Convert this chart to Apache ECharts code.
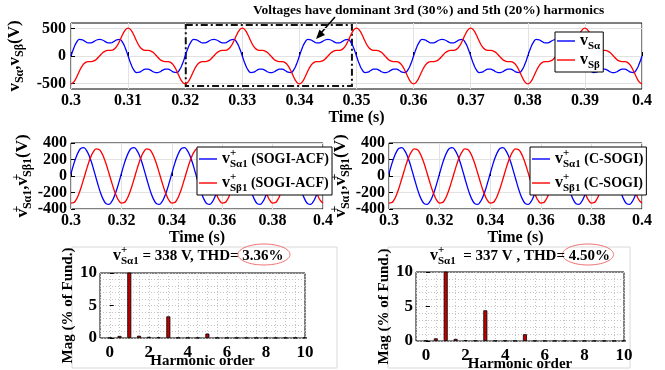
<!DOCTYPE html>
<html>
<head>
<meta charset="utf-8">
<script src="https://cdn.jsdelivr.net/npm/echarts@6/dist/echarts.min.js"></script>
<style>
  html, body { margin: 0; padding: 0; background: #fff; }
  #chart { width: 665px; height: 370px; }
</style>
</head>
<body>
<div id="chart"></div>
<script>
// --- data ---
// top panel: grid voltages, sampled every 0.5 ms from 0.3 s
const vSalpha = [
  0, 147, 254, 301, 295, 263, 237, 238, 262, 291, 304, 291, 262, 238, 237, 263, 295, 301, 254, 147, 0, -147, -254, -301, -295, -263, -237, -238, -262, -291, -304, -291, -262, -238, -237, -263, -295, -301, -254, -147,
  0, 147, 254, 301, 295, 263, 237, 238, 262, 291, 304, 291, 262, 238, 237, 263, 295, 301, 254, 147, 0, -147, -254, -301, -295, -263, -237, -238, -262, -291, -304, -291, -262, -238, -237, -263, -295, -301, -254, -147,
  0, 147, 254, 301, 295, 263, 237, 238, 262, 291, 304, 291, 262, 238, 237, 263, 295, 301, 254, 147, 0, -147, -254, -301, -295, -263, -237, -238, -262, -291, -304, -291, -262, -238, -237, -263, -295, -301, -254, -147,
  0, 147, 254, 301, 295, 263, 237, 238, 262, 291, 304, 291, 262, 238, 237, 263, 295, 301, 254, 147, 0, -147, -254, -301, -295, -263, -237, -238, -262, -291, -304, -291, -262, -238, -237, -263, -295, -301, -254, -147,
  0, 147, 254, 301, 295, 263, 237, 238, 262, 291, 304, 291, 262, 238, 237, 263, 295, 301, 254, 147, 0, -147, -254, -301, -295, -263, -237, -238, -262, -291, -304, -291, -262, -238, -237, -263, -295, -301, -254, -147,
  0
];
const vSbeta = [
  -507, -472, -381, -269, -175, -120, -102, -101, -90, -55, 0, 55, 90, 101, 102, 120, 175, 269, 381, 472, 507, 472, 381, 269, 175, 120, 102, 101, 90, 55, 0, -55, -90, -101, -102, -120, -175, -269, -381, -472,
  -507, -472, -381, -269, -175, -120, -102, -101, -90, -55, 0, 55, 90, 101, 102, 120, 175, 269, 381, 472, 507, 472, 381, 269, 175, 120, 102, 101, 90, 55, 0, -55, -90, -101, -102, -120, -175, -269, -381, -472,
  -507, -472, -381, -269, -175, -120, -102, -101, -90, -55, 0, 55, 90, 101, 102, 120, 175, 269, 381, 472, 507, 472, 381, 269, 175, 120, 102, 101, 90, 55, 0, -55, -90, -101, -102, -120, -175, -269, -381, -472,
  -507, -472, -381, -269, -175, -120, -102, -101, -90, -55, 0, 55, 90, 101, 102, 120, 175, 269, 381, 472, 507, 472, 381, 269, 175, 120, 102, 101, 90, 55, 0, -55, -90, -101, -102, -120, -175, -269, -381, -472,
  -507, -472, -381, -269, -175, -120, -102, -101, -90, -55, 0, 55, 90, 101, 102, 120, 175, 269, 381, 472, 507, 472, 381, 269, 175, 120, 102, 101, 90, 55, 0, -55, -90, -101, -102, -120, -175, -269, -381, -472,
  -507
];

// middle panels: extracted fundamental, sampled every 1 ms from 0.3 s
// (SOGI-ACF and C-SOGI traces are the same at this resolution)
const fundAlpha = [
  30, 135, 226, 296, 336, 344, 318, 260, 178, 78, -30, -135, -226, -296, -336, -344, -318, -260, -178, -78,
  30, 135, 226, 296, 336, 344, 318, 260, 178, 78, -30, -135, -226, -296, -336, -344, -318, -260, -178, -78,
  30, 135, 226, 296, 336, 344, 318, 260, 178, 78, -30, -135, -226, -296, -336, -344, -318, -260, -178, -78,
  30, 135, 226, 296, 336, 344, 318, 260, 178, 78, -30, -135, -226, -296, -336, -344, -318, -260, -178, -78,
  30, 135, 226, 296, 336, 344, 318, 260, 178, 78, -30, -135, -226, -296, -336, -344, -318, -260, -178, -78,
  30
];
const fundBeta = [
  -328, -324, -289, -225, -139, -40, 63, 160, 241, 299, 328, 324, 289, 225, 139, 40, -63, -160, -241, -299,
  -328, -324, -289, -225, -139, -40, 63, 160, 241, 299, 328, 324, 289, 225, 139, 40, -63, -160, -241, -299,
  -328, -324, -289, -225, -139, -40, 63, 160, 241, 299, 328, 324, 289, 225, 139, 40, -63, -160, -241, -299,
  -328, -324, -289, -225, -139, -40, 63, 160, 241, 299, 328, 324, 289, 225, 139, 40, -63, -160, -241, -299,
  -328, -324, -289, -225, -139, -40, 63, 160, 241, 299, 328, 324, 289, 225, 139, 40, -63, -160, -241, -299,
  -328
];

// bottom panels: harmonic spectrum (% of fundamental)
const harmOrder = [0, 0.5, 1, 1.5, 2, 2.5, 3, 3.5, 4, 4.5, 5, 5.5, 6, 6.5, 7, 7.5, 8, 8.5, 9, 9.5, 10];
const acfMag   = [0.05, 0.32, 100, 0.35, 0.18, 0.1, 3.33, 0.05, 0.05, 0.03, 0.68, 0.03, 0.03, 0.02, 0.03, 0.02, 0.02, 0.02, 0.02, 0.02, 0.02];
const csogiMag = [0.05, 0.38, 100, 0.3, 0.12, 0.06, 4.45, 0.04, 0.05, 0.03, 0.98, 0.03, 0.03, 0.02, 0.03, 0.02, 0.02, 0.02, 0.02, 0.02, 0.02];

// --- helpers ---
const serif = '"Liberation Serif", "Times New Roman", serif';
const BLUE = '#0000ff';
const RED = '#ff0000';

const topT = vSalpha.map((_, i) => 0.3 + i * 0.0005);
const midT = fundAlpha.map((_, i) => 0.3 + i * 0.001);
const pairs = (xs, ys) => ys.map((y, i) => [xs[i], y]);

// v with superscript (p) stacked over subscript (s)
function rich(vSize, tSize, small) {
  const base = { fontFamily: serif, fontWeight: 'bold', color: '#000' };
  return {
    v: Object.assign({ fontSize: vSize, lineHeight: vSize + 6, verticalAlign: 'middle' }, base),
    t: Object.assign({ fontSize: tSize, lineHeight: vSize + 6, verticalAlign: 'middle' }, base),
    p: Object.assign({ fontSize: small, lineHeight: small, width: 0, verticalAlign: 'top' }, base),
    s: Object.assign({ fontSize: small, lineHeight: small, verticalAlign: 'bottom' }, base)
  };
}

const tickFont = { fontFamily: serif, fontWeight: 'bold', fontSize: 16, color: '#000' };
const nameFont = { fontFamily: serif, fontWeight: 'bold', fontSize: 16, color: '#000' };
const fmtT = v => String(parseFloat(v.toFixed(2)));

function timeAxis(grid, interval, nameGap) {
  return {
    gridIndex: grid, type: 'value', min: 0.3, max: 0.4, interval: interval,
    axisLine: { show: false },
    axisTick: { inside: true, length: 4, lineStyle: { color: '#000' } },
    axisLabel: Object.assign({ margin: 4, formatter: fmtT }, tickFont),
    splitLine: { lineStyle: { color: '#e2e2e2' } },
    name: 'Time (s)', nameLocation: 'middle', nameGap: nameGap, nameTextStyle: nameFont
  };
}

function harmX(grid) {
  return {
    gridIndex: grid, type: 'value', min: -0.5, max: 10, interval: 0.5,
    axisLine: { show: false }, axisTick: { show: false },
    axisLabel: Object.assign({
      margin: 6,
      formatter: v => (v >= 0 && Math.abs(v % 2) < 1e-6) ? String(v) : ''
    }, tickFont, { fontSize: 17 }),
    splitLine: { lineStyle: { color: '#c4c4c4', type: [1, 2] } },
    name: 'Harmonic order', nameLocation: 'middle', nameGap: 16, nameMoveOverlap: false,
    nameTextStyle: Object.assign({}, nameFont, { fontSize: 15 })
  };
}

function harmY(grid) {
  return {
    gridIndex: grid, type: 'value', min: 0, max: 10, interval: 5,
    axisLine: { show: false },
    axisTick: { inside: true, length: 4, lineStyle: { color: '#000' } },
    axisLabel: Object.assign({ margin: 3 }, tickFont, { fontSize: 17 }),
    splitLine: { lineStyle: { color: '#c4c4c4', type: [1, 2] } },
    minorTick: { show: false, splitNumber: 5 },
    minorSplitLine: { show: true, lineStyle: { color: '#c4c4c4', type: [1, 2] } },
    name: 'Mag (% of Fund.)', nameLocation: 'middle', nameGap: 12,
    nameTextStyle: Object.assign({}, nameFont, { fontSize: 15 })
  };
}

// keep grids exactly where placed (no shrinking to fit labels)
const gridBox = { show: true, borderColor: '#000', borderWidth: 1, backgroundColor: '#fff', outerBoundsMode: 'none', containLabel: false };

const legendText = {
  vSa: '{v|v}{s|Sα}',
  vSb: '{v|v}{s|Sβ}',
  acfA: '{v|v}{p|+}{s|Sα1}{t| (SOGI-ACF)}',
  acfB: '{v|v}{p|+}{s|Sβ1}{t| (SOGI-ACF)}',
  csA: '{v|v}{p|+}{s|Sα1}{t| (C-SOGI)}',
  csB: '{v|v}{p|+}{s|Sβ1}{t| (C-SOGI)}'
};

function legendBox(left, top, names, itemGap) {
  return {
    left: left, top: top, orient: 'vertical', data: names,
    icon: 'rect', itemWidth: 18, itemHeight: 1.4, itemGap: itemGap,
    padding: [1, 3, 1, 2],
    backgroundColor: '#fff', borderColor: '#000', borderWidth: 1,
    selectedMode: false,
    formatter: n => legendText[n],
    textStyle: { rich: rich(16, 14, 11) }
  };
}

function lineSeries(name, x, y, data, color) {
  return {
    name: name, type: 'line', xAxisIndex: x, yAxisIndex: y, data: data,
    showSymbol: false, symbol: 'none', smooth: true,
    lineStyle: { color: color, width: 1.3 }, itemStyle: { color: color }
  };
}

function barSeries(name, x, y, mags) {
  return {
    name: name, type: 'bar', xAxisIndex: x, yAxisIndex: y,
    data: pairs(harmOrder, mags), barWidth: 4, clip: true,
    itemStyle: { color: '#c00000', borderColor: '#000', borderWidth: 0.8 }
  };
}

const chart = echarts.init(document.getElementById('chart'));

chart.setOption({
  animation: false,
  backgroundColor: '#fff',
  title: [
    {
      text: 'Voltages have dominant 3rd (30%) and 5th (20%) harmonics',
      left: 253, top: 4, padding: 0,
      textStyle: { fontFamily: serif, fontWeight: 'bold', fontSize: 13.5, color: '#000' }
    },
    {
      text: '{v|v}{p|+}{s|Sα1}{t| = 338 V, THD= 3.36%}',
      left: 113, top: 245, padding: 0,
      textStyle: { rich: rich(16, 15, 11) }
    },
    {
      text: '{v|v}{p|+}{s|Sα1}{t|  = 337 V , THD= 4.50%}',
      left: 430, top: 245, padding: 0,
      textStyle: { rich: rich(16, 15, 11) }
    }
  ],
  grid: [
    Object.assign({ left: 71, top: 23, width: 571, height: 66 }, gridBox),
    Object.assign({ left: 71, top: 143, width: 252, height: 66 }, gridBox),
    Object.assign({ left: 389, top: 143, width: 253, height: 66 }, gridBox),
    Object.assign({ left: 100, top: 273, width: 205, height: 65 }, gridBox),
    Object.assign({ left: 416, top: 272, width: 208, height: 69 }, gridBox)
  ],
  xAxis: [
    timeAxis(0, 0.01, 21),
    timeAxis(1, 0.02, 18),
    timeAxis(2, 0.02, 18),
    harmX(3),
    harmX(4)
  ],
  yAxis: [
    {
      gridIndex: 0, type: 'value', min: -600, max: 600,
      axisLine: { show: false },
      axisTick: { inside: true, length: 4, customValues: [-500, 0, 500], lineStyle: { color: '#000' } },
      axisLabel: Object.assign({ margin: 5, customValues: [-500, 0, 500] }, tickFont),
      splitLine: { lineStyle: { color: '#e2e2e2' } },
      name: '{v|v}{s|Sα}{t|,}{v|v}{s|Sβ}{t|(V)}', nameLocation: 'middle', nameRotate: 90, nameGap: 37,
      nameTextStyle: { rich: rich(17, 17, 12) }
    },
    {
      gridIndex: 1, type: 'value', min: -400, max: 400, interval: 200,
      axisLine: { show: false },
      axisTick: { inside: true, length: 4, lineStyle: { color: '#000' } },
      axisLabel: Object.assign({ margin: 4 }, tickFont),
      splitLine: { lineStyle: { color: '#e2e2e2' } },
      name: '{v|v}{p|+}{s|Sα1}{t|,}{v|v}{p|+}{s|Sβ1}{t|(V)}', nameLocation: 'middle', nameRotate: 90, nameGap: 33,
      nameTextStyle: { rich: rich(17, 17, 12) }
    },
    {
      gridIndex: 2, type: 'value', min: -400, max: 400, interval: 200,
      axisLine: { show: false },
      axisTick: { inside: true, length: 4, lineStyle: { color: '#000' } },
      axisLabel: Object.assign({ margin: 4 }, tickFont),
      splitLine: { lineStyle: { color: '#e2e2e2' } },
      name: '{v|v}{p|+}{s|Sα1}{t|,}{v|v}{p|+}{s|Sβ1}{t|(V)}', nameLocation: 'middle', nameRotate: 90, nameGap: 31,
      nameTextStyle: { rich: rich(17, 17, 12) }
    },
    harmY(3),
    harmY(4)
  ],
  legend: [
    legendBox(555, 32, ['vSa', 'vSb'], 0),
    legendBox(197, 147, ['acfA', 'acfB'], 2),
    legendBox(530, 147, ['csA', 'csB'], 2)
  ],
  series: [
    Object.assign(lineSeries('vSa', 0, 0, pairs(topT, vSalpha), BLUE), {
      markArea: {
        silent: true,
        label: { show: false },
        itemStyle: { color: 'rgba(0,0,0,0)', borderColor: '#111', borderWidth: 2, borderType: [7, 3, 2, 3] },
        data: [[{ coord: [0.3201, 564] }, { coord: [0.3492, -545] }]]
      }
    }),
    lineSeries('vSb', 0, 0, pairs(topT, vSbeta), RED),
    lineSeries('acfA', 1, 1, pairs(midT, fundAlpha), BLUE),
    lineSeries('acfB', 1, 1, pairs(midT, fundBeta), RED),
    lineSeries('csA', 2, 2, pairs(midT, fundAlpha), BLUE),
    lineSeries('csB', 2, 2, pairs(midT, fundBeta), RED),
    barSeries('acfH', 3, 3, acfMag),
    barSeries('csH', 4, 4, csogiMag)
  ],
  graphic: [
    // annotation arrow
    { type: 'line', shape: { x1: 335, y1: 17, x2: 321, y2: 33 }, style: { stroke: '#000', lineWidth: 1.5 } },
    { type: 'polygon', shape: { points: [[316, 39], [325, 35], [319.5, 29.5]] }, style: { fill: '#000' } },
    // light frames round the spectrum plots
    { type: 'rect', shape: { x: 72, y: 247, width: 265, height: 121 }, style: { fill: 'none', stroke: '#d8d8d8', lineWidth: 1 }, z: -1 },
    { type: 'rect', shape: { x: 388, y: 247, width: 242, height: 121 }, style: { fill: 'none', stroke: '#d8d8d8', lineWidth: 1 }, z: -1 },
    // THD highlight ellipses
    { type: 'ellipse', shape: { cx: 264, cy: 254.5, rx: 26, ry: 10.5 }, style: { fill: 'none', stroke: '#f07070', lineWidth: 1 } },
    { type: 'ellipse', shape: { cx: 588, cy: 254.5, rx: 25.5, ry: 10.5 }, style: { fill: 'none', stroke: '#f07070', lineWidth: 1 } }
  ]
});
</script>
</body>
</html>
